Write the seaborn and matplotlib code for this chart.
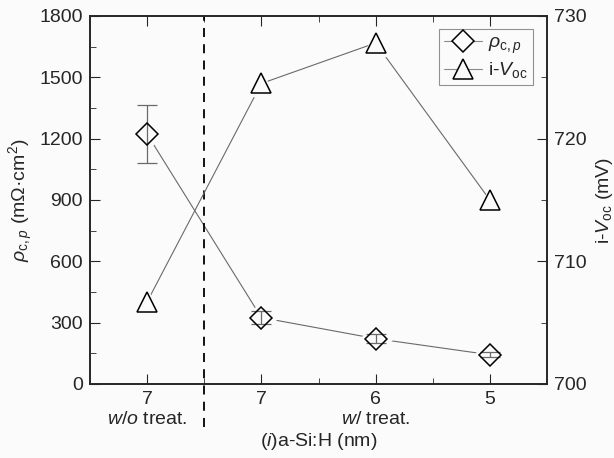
import numpy as np
import matplotlib
matplotlib.use("Agg")
import matplotlib.pyplot as plt
from matplotlib.lines import Line2D
import seaborn as sns

# data
tick_labels = ["7", "7", "6", "5"]
rho = [1222, 325, 222, 143]          # rho_c,p (mOhm cm^2)
rho_err = [142, 30, 22, 12]
voc = [706.7, 724.5, 727.8, 715.0]   # i-Voc (mV)

pos = np.arange(len(tick_labels))

sns.set_style("ticks")
plt.rcParams["font.family"] = ["Liberation Sans", "DejaVu Sans"]
plt.rcParams["mathtext.fontset"] = "custom"
plt.rcParams["mathtext.rm"] = "Liberation Sans"
plt.rcParams["mathtext.it"] = "Liberation Sans:italic"

fs = 14
bg = "#fbfbfb"
fig = plt.figure(figsize=(6.14, 4.58), dpi=100, facecolor=bg)
ax = fig.add_axes([90 / 614, 1 - 384 / 458, 457 / 614, 368 / 458])
ax.set_facecolor(bg)
ax2 = ax.twinx()

line_kw = dict(color="#6a6a6a", linewidth=0.8)

# rho_c,p
sns.lineplot(x=pos, y=rho, ax=ax, sort=False, legend=False, **line_kw)
ax.plot(pos, rho, linestyle="none", marker="D", markersize=16,
        markerfacecolor=bg, markeredgecolor=bg, zorder=4)
ax.errorbar(pos, rho, yerr=rho_err, fmt="none", ecolor="#6a6a6a",
            elinewidth=0.9, capsize=7.5, capthick=0.9, zorder=4.5)
ax.plot(pos, rho, linestyle="none", marker="D", markersize=11.5,
        markerfacecolor="none", markeredgecolor="black",
        markeredgewidth=1.1, zorder=5)

# i-Voc
sns.lineplot(x=pos, y=voc, ax=ax2, sort=False, legend=False, **line_kw)
ax2.plot(pos, voc, linestyle="none", marker="^", markersize=19,
         markerfacecolor=bg, markeredgecolor=bg, zorder=4)
ax2.plot(pos, voc, linestyle="none", marker="^", markersize=14,
         markerfacecolor="none", markeredgecolor="black",
         markeredgewidth=1.1, zorder=5)

ax.set_xlim(-0.5, 3.5)
ax.set_ylim(0, 1800)
ax2.set_ylim(700, 730)

ax.set_xticks(pos)
ax.set_xticklabels(tick_labels)
ax.set_xticks(pos[:-1] + 0.5, minor=True)
ax.set_yticks(np.arange(0, 1801, 300))
ax.set_yticks(np.arange(150, 1800, 300), minor=True)
ax2.set_yticks(np.arange(700, 731, 10))
ax2.set_yticks(np.arange(705, 730, 10), minor=True)

ax.tick_params(axis="x", which="both", direction="in", top=True,
               labelsize=fs, pad=5)
ax.tick_params(axis="x", which="major", length=7)
ax.tick_params(axis="x", which="minor", length=4)
ax.tick_params(axis="y", which="major", direction="in", length=7,
               labelsize=fs, right=False, pad=5)
ax.tick_params(axis="y", which="minor", direction="in", length=4, right=False)
ax2.tick_params(axis="y", which="major", direction="in", length=7,
                labelsize=fs, pad=5)
ax2.tick_params(axis="y", which="minor", direction="in", length=4)
for a in (ax, ax2):
    for s in a.spines.values():
        s.set_linewidth(1.2)
        s.set_visible(True)

# dashed separator, running below the axis
ax.axvline(0.5, ymin=-0.117, ymax=1, color="black", linestyle=(0, (5, 4)),
           linewidth=1.3, clip_on=False, zorder=2)

ax.text(0, -0.073, "$\\it{w/o}$ treat.", transform=ax.get_xaxis_transform(),
        ha="center", va="top", fontsize=fs)
ax.text(2, -0.073, "$\\it{w/}$ treat.", transform=ax.get_xaxis_transform(),
        ha="center", va="top", fontsize=fs)

ax.set_xlabel("($\\it{i}$)a-Si:H (nm)", fontsize=fs)
ax.xaxis.set_label_coords(0.5, -0.128)
ax.set_ylabel("$\\it{\\rho}_{\\mathrm{c,}\\it{p}}$ (m\u03a9\u00b7cm$^2$)",
              fontsize=fs, labelpad=3)
ax2.set_ylabel("i-$\\it{V}_{\\mathrm{oc}}$ (mV)", fontsize=fs, labelpad=5)

# legend
handles = [
    Line2D([], [], color="#8a8a8a", linewidth=0.8, marker="D", markersize=11.5,
           markerfacecolor=bg, markeredgecolor="black", markeredgewidth=1.1),
    Line2D([], [], color="#8a8a8a", linewidth=0.8, marker="^", markersize=14,
           markerfacecolor=bg, markeredgecolor="black", markeredgewidth=1.1),
]
labels = ["$\\it{\\rho}_{\\mathrm{c,}\\it{p}}$", "i-$\\it{V}_{\\mathrm{oc}}$"]
leg = ax2.legend(handles, labels, loc="upper right", bbox_to_anchor=(0.978, 0.975),
                 fontsize=fs, frameon=True, fancybox=False, edgecolor="#777777",
                 handlelength=2.0, handletextpad=0.3, borderpad=0.25,
                 labelspacing=0.25, borderaxespad=0.2)
leg.get_frame().set_linewidth(0.8)
leg.get_frame().set_facecolor(bg)

fig.savefig("out.png", dpi=100, facecolor=bg)
